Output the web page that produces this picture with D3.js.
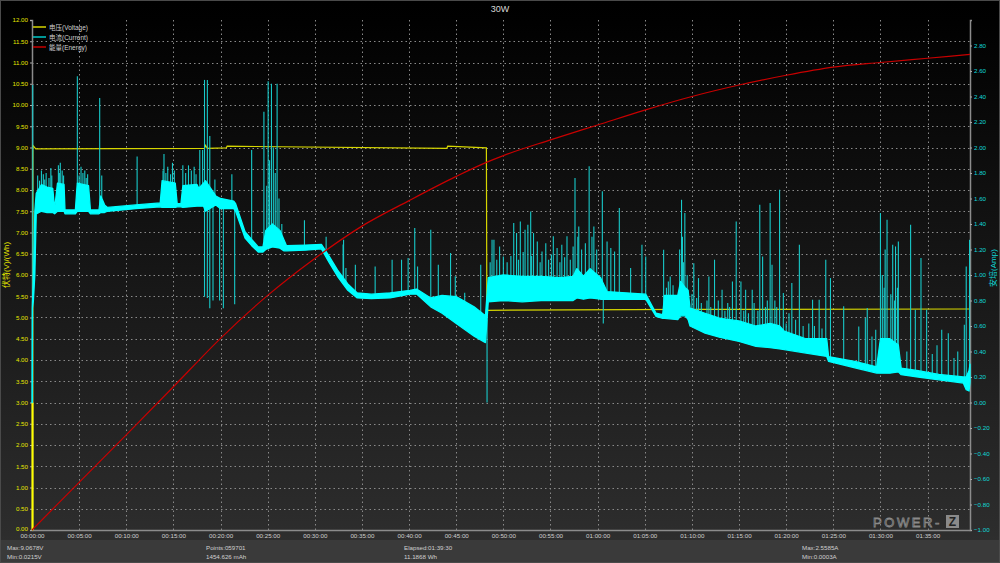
<!DOCTYPE html>
<html>
<head>
<meta charset="utf-8">
<script src="https://cdn.jsdelivr.net/npm/d3@7"></script>
<style>
  html, body { margin: 0; background: #000; }
  svg { display: block; font-family: "Liberation Sans", "Noto Sans CJK SC", sans-serif; }
</style>
</head>
<body>
<div id="chart"></div>
<script>
// time in minutes
const voltT = [0, 0.07, 0.09, 0.4, 18.3, 18.4, 18.6, 20.6, 20.7, 44.0, 44.1, 48.2, 48.25, 70.0, 99.5];
const voltV = [0, 0, 9.05, 8.97, 8.98, 9.05, 8.98, 8.99, 9.03, 8.98, 9.03, 8.99, 5.17, 5.19, 5.2];

// current band (lower / upper edge of the dense trace), amps
const curT = [0, 0.03, 0.05, 0.15, 0.3, 0.45, 1.0, 1.6, 2.2, 2.4, 2.7, 3.4, 3.5, 4.6, 4.8, 6.0, 6.2, 7.1,
  7.3, 7.7, 8.0, 11.0, 13.6, 13.8, 15.2, 15.4, 15.8, 16.0, 17.5, 17.7, 18.2, 18.4, 19.5, 20.0, 21.4,
  21.6, 22.6, 23.3, 24.0, 24.5, 24.8, 25.5, 26.3, 26.7, 27.0, 29.0, 30.7, 31.5, 32.4, 33.5, 34.5,
  36.0, 38.0, 40.1, 40.8, 42.3, 43.5, 45.0, 46.9, 48.1, 48.4, 50.0, 52.0, 54.0, 56.0, 57.4, 57.8,
  58.5, 59.2, 60.3, 61.0, 63.0, 65.1, 66.2, 66.9, 67.1, 68.5, 68.8, 69.3, 69.6, 69.8, 71.4, 73.0,
  75.0, 76.8, 78.3, 79.3, 79.8, 82.1, 84.3, 84.5, 87.4, 89.6, 90.0, 91.0, 91.9, 92.2, 94.0, 96.2,
  98.8, 99.1, 99.4, 99.5];
const curLo = [0, 0, 0.74, 0.8, 1.0, 1.48, 1.5, 1.49, 1.49, 1.48, 1.5, 1.5, 1.48, 1.48, 1.5, 1.5, 1.48, 1.48,
  1.49, 1.49, 1.5, 1.52, 1.535, 1.53, 1.53, 1.535, 1.535, 1.53, 1.54, 1.54, 1.54, 1.5, 1.55, 1.52, 1.52,
  1.5, 1.29, 1.23, 1.18, 1.18, 1.2, 1.22, 1.21, 1.19, 1.19, 1.195, 1.205, 1.1, 0.99, 0.88, 0.82,
  0.815, 0.82, 0.85, 0.85, 0.75, 0.7, 0.62, 0.52, 0.47, 0.79, 0.8, 0.79, 0.8, 0.8, 0.8, 0.82,
  0.81, 0.82, 0.81, 0.81, 0.81, 0.81, 0.675, 0.66, 0.66, 0.65, 0.68, 0.68, 0.65, 0.6, 0.544, 0.51,
  0.479, 0.44, 0.43, 0.42, 0.415, 0.388, 0.361, 0.322, 0.27, 0.231, 0.23, 0.23, 0.24, 0.218, 0.2, 0.178,
  0.152, 0.1, 0.09, 0.16];
const curHi = [0, 0.74, 0.78, 0.95, 1.5, 1.64, 1.71, 1.69, 1.68, 1.52, 1.72, 1.71, 1.51, 1.51, 1.72, 1.7, 1.51, 1.51,
  1.62, 1.55, 1.53, 1.55, 1.565, 1.74, 1.72, 1.56, 1.56, 1.7, 1.71, 1.68, 1.72, 1.74, 1.62, 1.6, 1.58,
  1.56, 1.34, 1.28, 1.22, 1.22, 1.35, 1.4, 1.35, 1.28, 1.23, 1.235, 1.24, 1.15, 1.04, 0.93, 0.86,
  0.85, 0.86, 0.88, 0.89, 0.82, 0.84, 0.83, 0.75, 0.68, 0.98, 1.0, 0.99, 0.99, 0.98, 0.99, 1.05,
  0.99, 1.05, 0.98, 0.87, 0.86, 0.85, 0.7, 0.69, 0.84, 0.84, 0.95, 0.9, 0.88, 0.74, 0.7, 0.66,
  0.64, 0.6, 0.62, 0.6, 0.56, 0.5, 0.5, 0.36, 0.32, 0.28, 0.5, 0.5, 0.45, 0.27, 0.25, 0.22,
  0.2, 0.2, 0.25, 0.3];

// isolated current spikes [minute, amps]
const spikes = [[0.08, 2.49], [0.6, 1.78], [0.8, 1.74], [1.0, 1.82], [1.2, 1.79], [1.35, 1.75], [1.5, 1.8],
  [1.8, 1.76], [2.0, 1.84], [2.1, 1.78], [2.8, 1.86], [2.9, 1.8], [3.0, 1.88], [3.2, 1.82], [3.35, 1.78],
  [4.81, 2.558], [5.0, 1.78], [5.2, 1.85], [5.4, 1.8], [5.6, 1.82], [5.75, 1.76], [5.9, 1.79],
  [7.18, 2.388], [7.4, 1.78], [11.15, 1.93], [13.9, 1.82], [14.0, 1.95], [14.2, 1.8], [14.4, 1.85],
  [14.7, 1.79], [14.9, 1.88], [15.1, 1.82], [16.0, 1.86], [16.3, 1.8], [16.6, 1.86], [16.9, 1.82],
  [17.2, 1.85], [17.4, 1.79], [17.8, 1.98], [18.1, 1.98], [18.3, 2.53], [18.6, 2.53], [18.86, 2.09],
  [19.4, 1.75], [21.2, 1.79], [23.3, 1.98], [24.6, 2.28], [24.9, 1.7], [25.05, 2.52], [25.2, 1.9],
  [25.4, 2.5], [25.6, 2.0], [25.8, 1.8], [26.0, 2.5], [26.2, 1.6], [26.5, 1.4], [28.9, 1.43], [31.2, 1.3],
  [33.0, 1.24], [33.05, 1.276], [33.3, 1.054], [34.3, 1.08], [36.4, 1.067], [38.2, 1.12], [39.2, 1.12],
  [39.9, 1.133], [40.6, 1.368], [40.9, 1.067], [42.3, 1.355], [43.1, 1.08], [44.4, 1.172], [44.9, 0.99],
  [45.9, 0.86], [47.6, 1.08], [48.6, 1.1], [48.8, 1.276], [49.0, 1.276], [49.3, 1.12], [49.6, 1.224],
  [50.0, 1.146], [50.4, 1.1], [50.8, 1.15], [51.1, 1.407], [51.4, 1.329], [51.6, 1.12], [51.8, 1.42],
  [52.1, 1.18], [52.3, 1.355], [52.6, 1.394], [52.9, 1.499], [53.0, 1.15], [53.2, 1.329], [53.6, 1.263],
  [53.9, 1.1], [54.1, 1.185], [54.5, 1.25], [54.8, 1.12], [55.1, 1.16], [55.3, 1.303], [55.7, 1.211],
  [56.0, 1.1], [56.2, 1.237], [56.5, 1.14], [56.75, 1.303], [57.1, 1.12], [57.4, 1.224], [57.6, 1.76],
  [57.9, 1.3], [58.0, 1.38], [58.3, 1.2], [58.7, 1.25], [59.1, 1.852], [59.4, 1.3], [59.6, 1.381],
  [59.9, 1.2], [60.5, 1.656], [61.0, 1.263], [61.4, 1.211], [61.8, 1.185], [62.3, 1.525], [63.5, 1.054],
  [64.7, 1.237], [65.1, 1.146], [67.0, 1.198], [67.3, 0.9], [67.5, 0.95], [67.7, 0.989], [68.0, 0.92],
  [68.3, 0.806], [68.7, 1.2], [68.9, 1.59], [69.0, 1.3], [69.1, 1.1], [69.25, 1.486], [69.5, 1.0],
  [70.0, 0.85], [70.2, 1.093], [70.5, 0.82], [70.7, 0.976], [71.0, 0.78], [71.6, 0.8], [71.8, 0.989],
  [72.0, 0.75], [72.4, 1.12], [72.8, 0.8], [73.2, 0.884], [73.5, 0.72], [73.8, 0.78], [74.0, 0.75],
  [74.3, 0.95], [74.7, 1.42], [75.2, 0.95], [75.5, 0.72], [75.7, 0.884], [76.0, 0.7], [76.4, 0.884],
  [76.6, 0.78], [77.0, 0.72], [77.2, 1.551], [77.5, 1.146], [77.8, 0.75], [78.0, 0.8], [78.3, 1.564],
  [78.5, 1.08], [78.8, 0.8], [79.0, 0.75], [79.3, 1.669], [79.7, 0.858], [80.0, 0.62], [80.3, 0.7],
  [80.6, 0.937], [81.0, 0.65], [81.4, 1.237], [81.8, 0.6], [82.4, 0.62], [82.8, 0.806], [83.0, 0.6],
  [83.5, 0.806], [83.8, 0.58], [84.2, 1.12], [84.7, 0.976], [86.1, 0.754], [87.7, 0.597], [88.4, 0.662],
  [88.6, 0.741], [89.1, 0.518], [89.5, 0.571], [90.0, 1.486], [90.2, 1.0], [90.4, 0.9], [90.5, 1.2],
  [90.7, 1.433], [91.1, 0.85], [91.3, 1.237], [91.5, 0.8], [91.6, 1.224], [91.8, 0.9], [91.9, 1.263],
  [92.8, 0.4], [93.2, 1.394], [93.7, 0.727], [94.3, 1.133], [94.9, 0.727], [95.5, 0.38], [96.0, 0.45],
  [96.5, 0.571], [97.2, 0.544], [97.8, 0.35], [98.2, 0.4], [98.9, 0.61], [99.1, 1.067], [99.45, 1.276]];
// drops below the band [minute, amps]
const dips = [[18.3, 0.83], [18.6, 0.82], [18.86, 0.74], [19.2, 0.8], [19.9, 0.8], [20.3, 0.74],
  [21.5, 0.77], [48.27, 0.0], [60.6, 0.62]];

const energyT = [0, 5, 10, 15, 20, 25, 30, 35, 40, 45, 48.2, 50, 55, 60, 65, 70, 75, 80, 85, 90, 95, 99.5];
const energyV = [0, 1.12, 2.24, 3.37, 4.51, 5.52, 6.39, 7.15, 7.75, 8.32, 8.65, 8.81, 9.18, 9.53, 9.88,
  10.2, 10.47, 10.7, 10.89, 11.0, 11.1, 11.19];

const leftTicks = d3.range(0, 12.001, 0.5);
const rightTicks = d3.range(-1, 2.801, 0.2);
const timeTicks = d3.range(0, 96, 5);

const legendNames = ["电压(Voltage)", "电流(Current)", "能量(Energy)"];
const stats = [
  ["Max:9.0678V", "Min:0.0215V"],
  ["Points:059701", "1454.626 mAh"],
  ["Elapsed:01:39:30", "11.1868 Wh"],
  ["Max:2.5585A", "Min:0.0003A"]
];
const statX = [7, 206, 404, 802];

const W = 1000, H = 563;
const C = { volt: "#d6d600", cur: "#00ffff", energy: "#c80000" };

const x = d3.scaleLinear().domain([0, 99.5]).range([32, 970]);
const yL = d3.scaleLinear().domain([0, 12]).range([530, 20]);
const yR = d3.scaleLinear().domain([-1, 3]).range([530, 20]);

const fmtTime = (m) => {
  const s = Math.round(m * 60);
  const p = (n) => String(n).padStart(2, "0");
  return `${p(Math.floor(s / 3600))}:${p(Math.floor(s / 60) % 60)}:${p(s % 60)}`;
};

const svg = d3.select("#chart").append("svg").attr("width", W).attr("height", H);

const defs = svg.append("defs");
const bg = defs.append("linearGradient").attr("id", "bg")
  .attr("x1", 0).attr("y1", 0).attr("x2", 0).attr("y2", 1);
bg.append("stop").attr("offset", "0%").attr("stop-color", "#000");
bg.append("stop").attr("offset", "4%").attr("stop-color", "#010101");
bg.append("stop").attr("offset", "95%").attr("stop-color", "#2d2d2d");
bg.append("stop").attr("offset", "100%").attr("stop-color", "#333");

svg.append("rect").attr("width", W).attr("height", H).attr("fill", "url(#bg)");
svg.append("rect").attr("x", 0).attr("y", 540).attr("width", W).attr("height", 23).attr("fill", "#3a3a3a");
svg.append("rect").attr("x", 0.5).attr("y", 0.5).attr("width", W - 1).attr("height", H - 1)
  .attr("fill", "none").attr("stroke", "#4a4a4a");

// grid
const grid = svg.append("g").attr("stroke", "#8a8a8a").attr("stroke-width", 1).attr("stroke-dasharray", "1.5,3");
grid.selectAll(".gh").data(leftTicks.filter((d) => d > 0 && d < 12)).enter().append("line")
  .attr("x1", x(0)).attr("x2", x(99.5))
  .attr("y1", (d) => Math.round(yL(d)) + 0.5).attr("y2", (d) => Math.round(yL(d)) + 0.5);
grid.selectAll(".gv").data(timeTicks.filter((d) => d > 0)).enter().append("line")
  .attr("y1", yL(12)).attr("y2", yL(0))
  .attr("x1", (d) => Math.round(x(d)) + 0.5).attr("x2", (d) => Math.round(x(d)) + 0.5);

// axes
const axisLeft = d3.axisLeft(yL).tickValues(leftTicks).tickFormat(d3.format(".2f")).tickSize(2).tickPadding(2);
const gL = svg.append("g").attr("transform", `translate(${x(0)},0)`).call(axisLeft);
const axisRight = d3.axisRight(yR).tickValues(rightTicks).tickFormat(d3.format(".2f")).tickSize(2).tickPadding(1);
const gR = svg.append("g").attr("transform", `translate(${x(99.5)},0)`).call(axisRight);
const axisBottom = d3.axisBottom(x).tickValues(timeTicks).tickFormat(fmtTime).tickSize(0).tickPadding(4);
const gB = svg.append("g").attr("transform", `translate(0,${yL(0)})`).call(axisBottom);

[gL, gR, gB].forEach((g) => {
  g.select(".domain").attr("stroke", "#8c8c8c").attr("stroke-width", 1.5);
  g.selectAll("text").attr("font-size", 6.2).attr("font-family", "Liberation Sans, sans-serif");
});
gL.selectAll(".tick line").attr("stroke", "#aaa");
gR.selectAll(".tick line").attr("stroke", "#aaa");
gL.selectAll("text").attr("fill", "#e6e600");
gL.selectAll(".tick").filter((d) => d === 0).select("text").attr("dy", "0.1em");
gR.selectAll("text").attr("fill", "#10d8d8").attr("x", 4);
gB.selectAll("text").attr("fill", "#cfcfcf");

// axis titles
svg.append("text").attr("transform", `translate(9,${265}) rotate(-90)`)
  .attr("text-anchor", "middle").attr("font-size", 8).attr("fill", "#e6e600").text("伏特(V)/(Wh)");
svg.append("text").attr("transform", `translate(996,${268}) rotate(-90)`)
  .attr("text-anchor", "middle").attr("font-size", 8).attr("fill", "#10d8d8").text("安培(Amp)");

// voltage
const volt = voltT.map((t, i) => [t, voltV[i]]);
svg.append("path").datum(volt)
  .attr("d", d3.line().x((d) => x(d[0])).y((d) => yL(d[1])))
  .attr("fill", "none").attr("stroke", C.volt).attr("stroke-width", 1.2);
svg.append("line").attr("x1", x(0.05)).attr("x2", x(0.05)).attr("y1", yL(0)).attr("y2", yL(3))
  .attr("stroke", "#ffff00").attr("stroke-width", 2);

// current
const band = curT.map((t, i) => ({ t, lo: curLo[i], hi: curHi[i] }));

const interp = (t, key) => {
  const i = d3.bisector((d) => d.t).right(band, t);
  if (i <= 0) return band[0][key];
  if (i >= band.length) return band[band.length - 1][key];
  const a = band[i - 1], b = band[i];
  return a[key] + (b[key] - a[key]) * (t - a.t) / (b.t - a.t);
};

svg.append("g").selectAll("line").data(spikes).enter().append("line")
  .attr("x1", (d) => x(d[0])).attr("x2", (d) => x(d[0]))
  .attr("y1", (d) => yR(interp(d[0], "hi"))).attr("y2", (d) => yR(d[1]))
  .attr("stroke", "#18caca").attr("stroke-width", 1.1);
svg.append("g").selectAll("line").data(dips).enter().append("line")
  .attr("x1", (d) => x(d[0])).attr("x2", (d) => x(d[0]))
  .attr("y1", (d) => yR(interp(d[0], "lo"))).attr("y2", (d) => yR(d[1]))
  .attr("stroke", "#18caca").attr("stroke-width", 1.1);

svg.append("path").datum(band)
  .attr("d", d3.area().x((d) => x(d.t)).y0((d) => yR(d.lo)).y1((d) => yR(d.hi)))
  .attr("fill", C.cur).attr("stroke", C.cur).attr("stroke-width", 1.3).attr("stroke-linejoin", "round");

// energy
const energy = energyT.map((t, i) => [t, energyV[i]]);
svg.append("path").datum(energy)
  .attr("d", d3.line().curve(d3.curveMonotoneX).x((d) => x(d[0])).y((d) => yL(d[1])))
  .attr("fill", "none").attr("stroke", C.energy).attr("stroke-width", 1.2);

// title
svg.append("text").attr("x", 500).attr("y", 12).attr("text-anchor", "middle")
  .attr("font-size", 9).attr("fill", "#d8d8d8").text("30W");

// legend
const legend = svg.append("g").selectAll("g").data(legendNames).enter().append("g")
  .attr("transform", (d, i) => `translate(33,${27 + i * 10})`);
legend.append("line").attr("x1", 0).attr("x2", 13).attr("y1", 0).attr("y2", 0)
  .attr("stroke", (d, i) => [C.volt, "#00c8c8", C.energy][i]).attr("stroke-width", 1.5);
legend.append("text").attr("x", 16).attr("y", 2.5).attr("font-size", 6.5).attr("fill", "#cfcfcf").text((d) => d);

// stats
const st = svg.append("g").selectAll("g").data(stats).enter().append("g")
  .attr("transform", (d, i) => `translate(${statX[i]},0)`);
st.append("text").attr("y", 550).attr("font-size", 6.2).attr("fill", "#d0d0d0").text((d) => d[0]);
st.append("text").attr("y", 558.5).attr("font-size", 6.2).attr("fill", "#d0d0d0").text((d) => d[1]);

// watermark
const wm = svg.append("g").attr("transform", "translate(873,527)");
wm.append("text").attr("x", 0).attr("y", 0).attr("font-size", 13).attr("letter-spacing", 2.6)
  .attr("fill", "none").attr("stroke", "#8a8a8a").attr("stroke-width", 0.8).text("POWER-");
wm.append("rect").attr("x", 73).attr("y", -12).attr("width", 13).attr("height", 13)
  .attr("fill", "#8a8a8a");
wm.append("text").attr("x", 79.5).attr("y", -1).attr("text-anchor", "middle").attr("font-size", 12)
  .attr("font-weight", "bold").attr("fill", "#222").text("Z");
</script>
</body>
</html>
